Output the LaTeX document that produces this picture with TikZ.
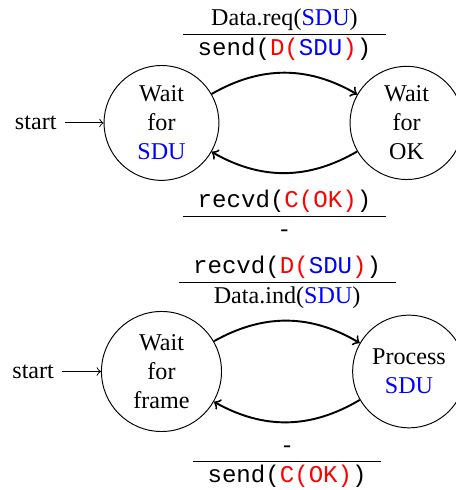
\documentclass[tikz,border=0pt]{standalone}
\usepackage{fontspec}
\setmainfont{Liberation Serif}
\setmonofont{Liberation Mono}
\usetikzlibrary{positioning}

\begin{document}
\begin{tikzpicture}[node distance={54pt}, state/.style = {draw, circle, align=center, inner sep=4pt}, trans/.style = {thick, ->}]
    \useasboundingbox (-67pt,-152.3pt) rectangle (121.8pt,51pt);
    % sender
    \node[state] (waitSDU) at (0,0) {Wait\\for\\\textcolor{blue}{SDU}};
    \node[state] (waitOK) [right=of waitSDU] {Wait\\for\\OK};
    \node (start1) [left=16pt of waitSDU] {start};
    % receiver
    \node[state] (waitFrame) [below=54pt of waitSDU] {Wait\\for\\frame};
    \node[state] (procSDU) [right=of waitFrame] {Process\\\textcolor{blue}{SDU}};
    \node (start2) [left=16pt of waitFrame] {start};

    \draw[->] (start1) -- (waitSDU);
    \draw[trans] (waitSDU) to[bend left] node[above] (req)
      {\begin{tabular}{c}Data.req(\textcolor{blue}{SDU})\\\hline
       \texttt{send(\textcolor{red}{D(\textcolor{blue}{SDU})})}\end{tabular}} (waitOK);
    \draw[trans] (waitOK) to[bend left] node[below=2pt] (ack)
      {\begin{tabular}{c}\texttt{recvd(\textcolor{red}{C(OK)})}\\\hline
       -\end{tabular}} (waitSDU);

    \draw[->] (start2) -- (waitFrame);
    \draw[trans] (waitFrame) to[bend left] node[above] (frame)
      {\begin{tabular}{c}\texttt{recvd(\textcolor{red}{D(\textcolor{blue}{SDU})})}\\\hline
       Data.ind(\textcolor{blue}{SDU})\end{tabular}} (procSDU);
    \draw[trans] (procSDU) to[bend left] node[below=0.5pt] (reply)
      {\begin{tabular}{c}-\\\hline
       \texttt{send(\textcolor{red}{C(OK)})}\end{tabular}} (waitFrame);
\end{tikzpicture}
\end{document}
